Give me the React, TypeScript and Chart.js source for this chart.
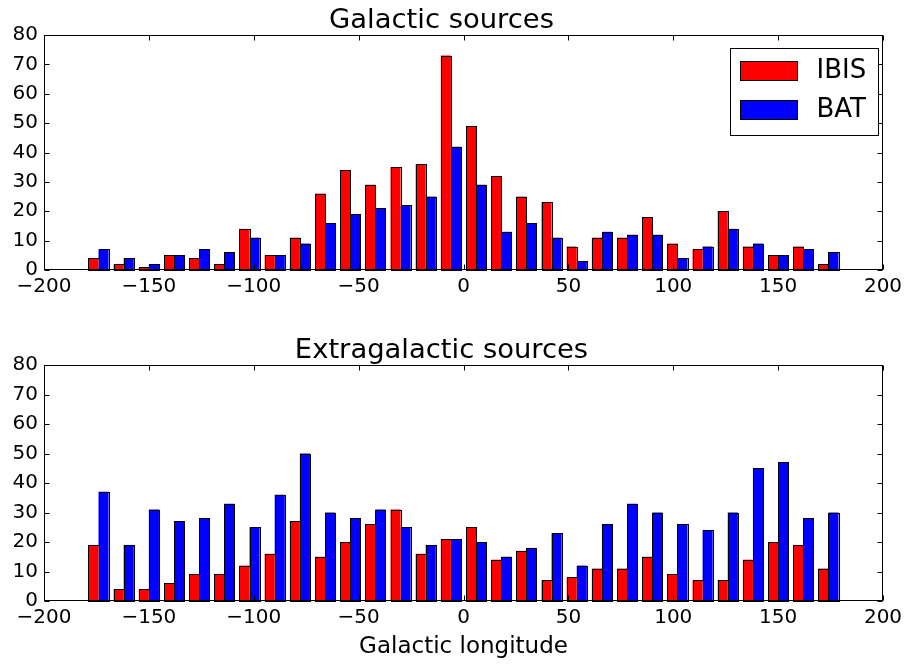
import React, { useEffect, useRef } from "react";
import { Chart, registerables } from "chart.js";

Chart.register(...registerables);
Chart.defaults.font.family = "'DejaVu Sans', sans-serif";
Chart.defaults.color = "#000";

// Bin centres (12-degree bins from -180 to 180)
const binCenters = [
  -174, -162, -150, -138, -126, -114, -102, -90, -78, -66, -54, -42, -30, -18, -6,
  6, 18, 30, 42, 54, 66, 78, 90, 102, 114, 126, 138, 150, 162, 174,
];

const galacticIBIS = [4, 2, 1, 5, 4, 2, 14, 5, 11, 26, 34, 29, 35, 36, 73, 49, 32, 25, 23, 8, 11, 11, 18, 9, 7, 20, 8, 5, 8, 2];
const galacticBAT = [7, 4, 2, 5, 7, 6, 11, 5, 9, 16, 19, 21, 22, 25, 42, 29, 13, 16, 11, 3, 13, 12, 12, 4, 8, 14, 9, 5, 7, 6];

const extraIBIS = [19, 4, 4, 6, 9, 9, 12, 16, 27, 15, 20, 26, 31, 16, 21, 25, 14, 17, 7, 8, 11, 11, 15, 9, 7, 7, 14, 20, 19, 11];
const extraBAT = [37, 19, 31, 27, 28, 33, 25, 36, 50, 30, 28, 31, 25, 19, 21, 20, 15, 18, 23, 12, 26, 33, 30, 26, 24, 30, 45, 47, 28, 30];

const xTickValues = [-200, -150, -100, -50, 0, 50, 100, 150, 200];
const yTickValues = [0, 10, 20, 30, 40, 50, 60, 70, 80];

const seriesNames = ["IBIS", "BAT"];
const seriesColors = ["#ff0000", "#0000ff"];

const FONT = "'DejaVu Sans', sans-serif";

// Crisp matplotlib-like black edges around each bar (positions from Chart.js elements)
const outlinePlugin = {
  id: "barOutline",
  afterDatasetsDraw(chart: any) {
    const { ctx } = chart;
    ctx.save();
    ctx.strokeStyle = "#000";
    ctx.lineWidth = 1;
    chart.data.datasets.forEach((_ds: any, di: number) => {
      const meta = chart.getDatasetMeta(di);
      meta.data.forEach((el: any) => {
        const p = el.getProps(["x", "y", "base", "width"], true);
        const l = Math.round(p.x - p.width / 2) + 0.5;
        const r = Math.round(p.x + p.width / 2) + 0.5;
        const t = Math.round(p.y) + 0.5;
        const b = Math.round(p.base) + 0.5;
        ctx.strokeRect(l, t, r - l, b - t);
      });
    });
    ctx.restore();
  },
};

const framePlugin = {
  id: "mplFrame",
  afterDraw(chart: any, _args: any, opts: any) {
    const { ctx, chartArea: a, scales } = chart;
    ctx.save();
    ctx.strokeStyle = "#000";
    ctx.lineWidth = 1;
    const L = Math.round(a.left) + 0.5;
    const R = Math.round(a.right) - 0.5;
    const T = Math.round(a.top) + 0.5;
    const B = Math.round(a.bottom) - 0.5;
    const tl = 5;
    ctx.beginPath();
    for (const t of scales.x.ticks) {
      const px = Math.round(scales.x.getPixelForValue(t.value)) + 0.5;
      ctx.moveTo(px, B);
      ctx.lineTo(px, B - tl);
      ctx.moveTo(px, T);
      ctx.lineTo(px, T + tl);
    }
    for (const t of scales.y.ticks) {
      const py = Math.round(scales.y.getPixelForValue(t.value)) + 0.5;
      ctx.moveTo(L, py);
      ctx.lineTo(L + tl, py);
      ctx.moveTo(R, py);
      ctx.lineTo(R - tl, py);
    }
    ctx.stroke();
    ctx.strokeRect(L, T, R - L, B - T);

    if (opts && opts.legend) {
      const boxW = 148;
      const boxH = 87;
      const bx = Math.round(a.right - 5 - boxW) + 0.5;
      const by = Math.round(a.top + 13) + 0.5;
      ctx.fillStyle = "#fff";
      ctx.fillRect(bx, by, boxW, boxH);
      ctx.strokeRect(bx, by, boxW, boxH);
      chart.data.datasets.forEach((ds: any, i: number) => {
        const ry = by + 13 + i * 39;
        ctx.fillStyle = ds.backgroundColor;
        ctx.fillRect(bx + 10, ry, 57, 19);
        ctx.strokeRect(bx + 10, ry, 57, 19);
        ctx.fillStyle = "#000";
        ctx.font = `26px ${FONT}`;
        ctx.textAlign = "left";
        ctx.textBaseline = "middle";
        ctx.fillText(ds.label, bx + 86, ry + 10);
      });
    }
    ctx.restore();
  },
};

function fmt(v: number) {
  return v < 0 ? "\u2212" + Math.abs(v) : String(v);
}

function makeDataset(label: string, color: string, values: number[]) {
  return {
    label,
    data: binCenters.map((x, i) => ({ x, y: values[i] })),
    backgroundColor: color,
    borderColor: "#000",
    borderWidth: 0,
    borderSkipped: false,
    inflateAmount: 0,
    categoryPercentage: 0.8,
    barPercentage: 1.0,
  };
}

function Panel(props: {
  title: string;
  ibis: number[];
  bat: number[];
  legend: boolean;
  xTitle?: string;
  top: number;
  height: number;
}) {
  const ref = useRef<HTMLCanvasElement>(null);
  useEffect(() => {
    const xHeight = props.height - (props.xTitle ? 271 : 270);
    const chart = new Chart(ref.current as HTMLCanvasElement, {
      type: "bar",
      data: {
        datasets: [
          makeDataset(seriesNames[0], seriesColors[0], props.ibis),
          makeDataset(seriesNames[1], seriesColors[1], props.bat),
        ] as any,
      },
      options: {
        animation: false,
        responsive: false,
        devicePixelRatio: 1,
        layout: { padding: { left: 0, right: 34, top: 0, bottom: 0 } },
        plugins: {
          legend: { display: false },
          tooltip: { enabled: false },
          title: {
            display: true,
            text: props.title,
            color: "#000",
            font: { family: FONT, size: 27.4, weight: "normal", lineHeight: 1 },
            padding: { top: 7.6, bottom: 0 },
          },
          mplFrame: { legend: props.legend },
        } as any,
        scales: {
          x: {
            type: "linear",
            min: -200,
            max: 200,
            offset: false,
            grid: { display: false, drawTicks: false },
            border: { display: false },
            afterBuildTicks: (s: any) => {
              s.ticks = xTickValues.map((v) => ({ value: v }));
            },
            afterFit: (s: any) => {
              s.height = xHeight;
              s.paddingLeft = 0;
              s.paddingRight = 0;
            },
            ticks: {
              color: "#000",
              font: { family: FONT, size: 20 },
              padding: 5,
              maxRotation: 0,
              autoSkip: false,
              callback: (v: any) => fmt(Number(v)),
            },
            title: {
              display: !!props.xTitle,
              text: props.xTitle || "",
              color: "#000",
              font: { family: FONT, size: 23, lineHeight: 1 },
              padding: { top: 5, bottom: 5 },
            },
          } as any,
          y: {
            type: "linear",
            min: 0,
            max: 80,
            grid: { display: false, drawTicks: false },
            border: { display: false },
            afterBuildTicks: (s: any) => {
              s.ticks = yTickValues.map((v) => ({ value: v }));
            },
            afterFit: (s: any) => {
              s.width = 44;
              s.paddingTop = 0;
              s.paddingBottom = 0;
            },
            ticks: {
              color: "#000",
              font: { family: FONT, size: 20 },
              padding: 6,
              autoSkip: false,
              callback: (v: any) => fmt(Number(v)),
            },
          } as any,
        },
      },
      plugins: [outlinePlugin as any, framePlugin as any],
    });
    return () => chart.destroy();
  }, []);
  return (
    <div style={{ position: "absolute", left: 0, top: props.top, width: 917, height: props.height }}>
      <canvas ref={ref} width={917} height={props.height} style={{ width: 917, height: props.height, display: "block" }} />
    </div>
  );
}

export default function App() {
  return (
    <div style={{ position: "fixed", left: 0, top: 0, width: 917, height: 664, background: "#fff", overflow: "hidden" }}>
      <Panel title="Galactic sources" ibis={galacticIBIS} bat={galacticBAT} legend={true} top={0} height={320} />
      <Panel
        title="Extragalactic sources"
        ibis={extraIBIS}
        bat={extraBAT}
        legend={false}
        xTitle="Galactic longitude"
        top={330}
        height={334}
      />
    </div>
  );
}
